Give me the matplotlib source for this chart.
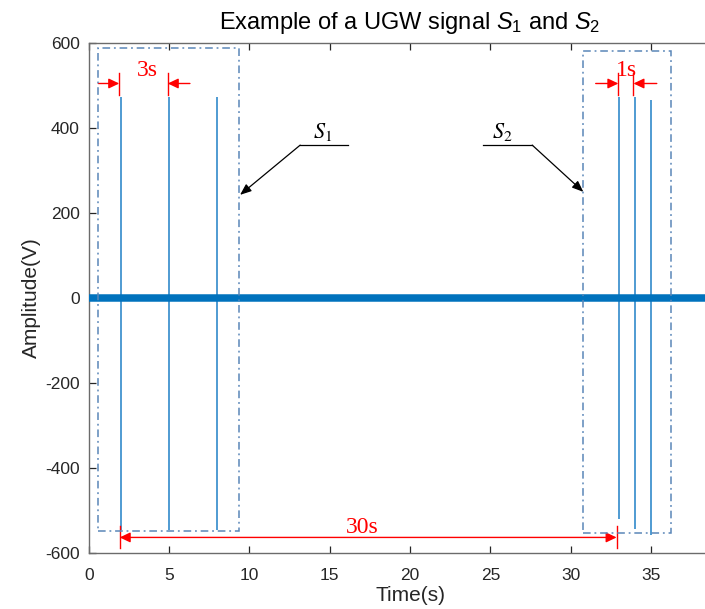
import matplotlib
matplotlib.use("Agg")
import matplotlib.pyplot as plt
from matplotlib.patches import Rectangle

# Pulse train of the two UGW signals
pulse_times = [2, 5, 8, 33, 34, 35]
pulse_peaks = [473, 473, 473, 472, 472, 465]
pulse_troughs = [-547, -547, -547, -521, -544, -558]
baseline_time = [0, 40]
baseline_amp = [0, 0]

x_ticks = [0, 5, 10, 15, 20, 25, 30, 35]
y_ticks = [-600, -400, -200, 0, 200, 400, 600]

plt.rcParams["font.family"] = ["Liberation Sans", "DejaVu Sans"]
plt.rcParams["axes.unicode_minus"] = False
plt.rcParams["mathtext.fontset"] = "custom"
plt.rcParams["mathtext.rm"] = "Liberation Sans"
plt.rcParams["mathtext.it"] = "Liberation Sans:italic"

fig = plt.figure(figsize=(7.05, 6.09), dpi=100)
ax = fig.add_axes([0.1258, 0.0924, 0.9118, 0.8375])
ax.set_xlim(0, 40)
ax.set_ylim(-600, 600)

blue = "#0072BD"
ax.vlines(pulse_times, pulse_troughs, pulse_peaks, color="#1f80c6", lw=1.1, zorder=2)
ax.plot(baseline_time, baseline_amp, color=blue, lw=5.4, zorder=3,
        solid_capstyle="butt", clip_on=True)

# Dash-dot frames around each signal group
frame_color = "#5a86b8"
for (x0, x1, y0, y1) in [(0.6, 9.37, -549, 587), (30.78, 36.24, -554, 580)]:
    ax.add_patch(Rectangle((x0, y0), x1 - x0, y1 - y0, fill=False,
                           edgecolor=frame_color, lw=1.1,
                           linestyle=(0, (5, 2.5, 1.2, 2.5)), zorder=4))

# Callouts naming the signals
serif = "Liberation Serif"
ax.plot([13.16, 16.15], [359, 359], color="black", lw=0.9)
ax.annotate("", xy=(9.42, 242), xytext=(13.16, 359),
            arrowprops=dict(arrowstyle="-|>,head_length=0.45,head_width=0.18",
                            color="black", lw=0.9, mutation_scale=15,
                            shrinkA=0, shrinkB=0))
ax.text(14.55, 364, r"$S_{\mathit{1}}$", math_fontfamily="stix",
        fontsize=16, ha="center", va="bottom", color="black")

ax.plot([24.52, 27.6], [359, 359], color="black", lw=0.9)
ax.annotate("", xy=(30.78, 249), xytext=(27.6, 359),
            arrowprops=dict(arrowstyle="-|>,head_length=0.45,head_width=0.18",
                            color="black", lw=0.9, mutation_scale=15,
                            shrinkA=0, shrinkB=0))
ax.text(25.75, 364, r"$S_{\mathit{2}}$", math_fontfamily="stix",
        fontsize=16, ha="center", va="bottom", color="black")

# Red dimension marks
red = "#FF0000"
head = "-|>,head_length=0.42,head_width=0.2"
def dim_arrow(tail, tip):
    ax.annotate("", xy=tip, xytext=tail,
                arrowprops=dict(arrowstyle=head, color=red, lw=1.0,
                                mutation_scale=15, shrinkA=0, shrinkB=0))

for xv in (1.9, 4.92):
    ax.plot([xv, xv], [477, 529], color=red, lw=1.0)
dim_arrow((0.6, 504), (1.9, 504))
dim_arrow((6.3, 504), (4.92, 504))
ax.text(3.66, 510, "3s", family=serif, fontsize=17, color=red,
        ha="center", va="bottom")

for xv in (32.96, 33.9):
    ax.plot([xv, xv], [477, 529], color=red, lw=1.0)
dim_arrow((31.55, 504), (32.96, 504))
dim_arrow((35.35, 504), (33.9, 504))
ax.text(33.44, 510, "1s", family=serif, fontsize=17, color=red,
        ha="center", va="bottom")

for xv in (1.93, 32.85):
    ax.plot([xv, xv], [-537, -590], color=red, lw=1.0)
ax.annotate("", xy=(32.85, -564), xytext=(1.93, -564),
            arrowprops=dict(arrowstyle="<|-|>,head_length=0.42,head_width=0.2",
                            color=red, lw=1.0, mutation_scale=15,
                            shrinkA=0, shrinkB=0))
ax.text(17.0, -566, "30s", family=serif, fontsize=17, color=red,
        ha="center", va="bottom")

# Axes styling
ax.set_xticks(x_ticks)
ax.set_yticks(y_ticks)
ax.tick_params(direction="in", length=5, width=0.9, top=True, right=True,
               labelsize=12.5, colors="#262626")
ax.tick_params(axis="x", pad=11)
ax.tick_params(axis="y", pad=6.5)
for s in ax.spines.values():
    s.set_color("#6b6b6b")
    s.set_linewidth(1.0)

ax.set_xlabel("Time(s)", fontsize=15, color="#262626", labelpad=2)
ax.set_ylabel("Amplitude(V)", fontsize=15, color="#262626", labelpad=3)
ax.set_title(r"Example of a UGW signal $\mathit{S}_{\mathit{1}}$ and $\mathit{S}_{\mathit{2}}$",
             fontsize=17, color="black", pad=10)

fig.savefig("out.png", dpi=100)
